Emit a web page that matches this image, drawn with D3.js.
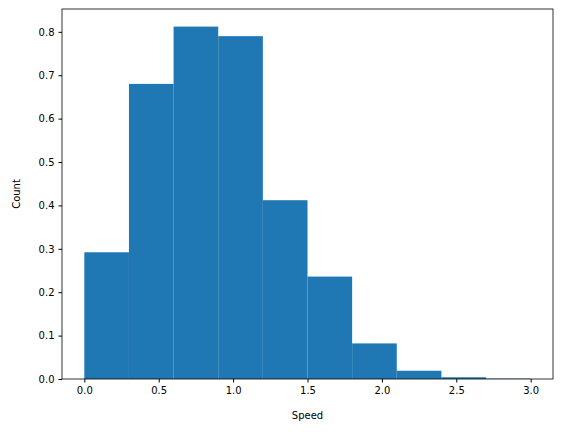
<!DOCTYPE html>
<html><head><meta charset="utf-8">
<script src="https://cdn.jsdelivr.net/npm/d3@7"></script>
<style>body{margin:0;background:#fff}text{font-family:"DejaVu Sans",sans-serif}</style>
</head><body><svg id="c" width="567" height="432"></svg>
<script>
const binEdges = [0, 0.3, 0.6, 0.9, 1.2, 1.5, 1.8, 2.1, 2.4, 2.7, 3.0];
const counts = [0.292, 0.68, 0.812, 0.79, 0.412, 0.236, 0.082, 0.019, 0.004, 0.0008];
const xTicks = [0, 0.5, 1, 1.5, 2, 2.5, 3];
const yTicks = [0, 0.1, 0.2, 0.3, 0.4, 0.5, 0.6, 0.7, 0.8];

const m = { l: 62, r: 14, t: 9, b: 53 };
const W = 567, H = 432;
const svg = d3.select("#c");
const x = d3.scaleLinear().domain([-0.15, 3.15]).range([m.l, W - m.r]);
const y = d3.scaleLinear().domain([0, 0.8526]).range([H - m.b, m.t]);

const bins = counts.map((c, i) => ({ x0: binEdges[i], x1: binEdges[i + 1], c }));
svg.selectAll(".bar").data(bins).enter().append("rect")
  .attr("x", d => x(d.x0))
  .attr("width", d => x(d.x1) - x(d.x0))
  .attr("y", d => y(d.c))
  .attr("height", d => y(0) - y(d.c))
  .attr("fill", "#1f77b4");

const xa = svg.append("g").attr("transform", `translate(0,${H - m.b})`)
  .call(d3.axisBottom(x).tickValues(xTicks).tickFormat(d3.format(".1f")).tickSize(3.5).tickPadding(4));
const ya = svg.append("g").attr("transform", `translate(${m.l},0)`)
  .call(d3.axisLeft(y).tickValues(yTicks).tickFormat(d3.format(".1f")).tickSize(3.5).tickPadding(4));
[xa, ya].forEach(a => {
  a.select(".domain").remove();
  a.selectAll("text").attr("font-size", 10).attr("fill", "#000").style("font-family", "DejaVu Sans");
  a.selectAll("line").attr("stroke", "#000");
});

svg.append("rect").attr("x", m.l).attr("y", m.t)
  .attr("width", W - m.l - m.r).attr("height", H - m.t - m.b)
  .attr("fill", "none").attr("stroke", "#000").attr("stroke-width", 0.8);

svg.append("text").attr("x", (m.l + W - m.r) / 2).attr("y", 419)
  .attr("text-anchor", "middle").attr("font-size", 10).text("Speed");
svg.append("text").attr("transform", `translate(20,${(m.t + H - m.b) / 2}) rotate(-90)`)
  .attr("text-anchor", "middle").attr("font-size", 10).text("Count");
</script></body></html>
